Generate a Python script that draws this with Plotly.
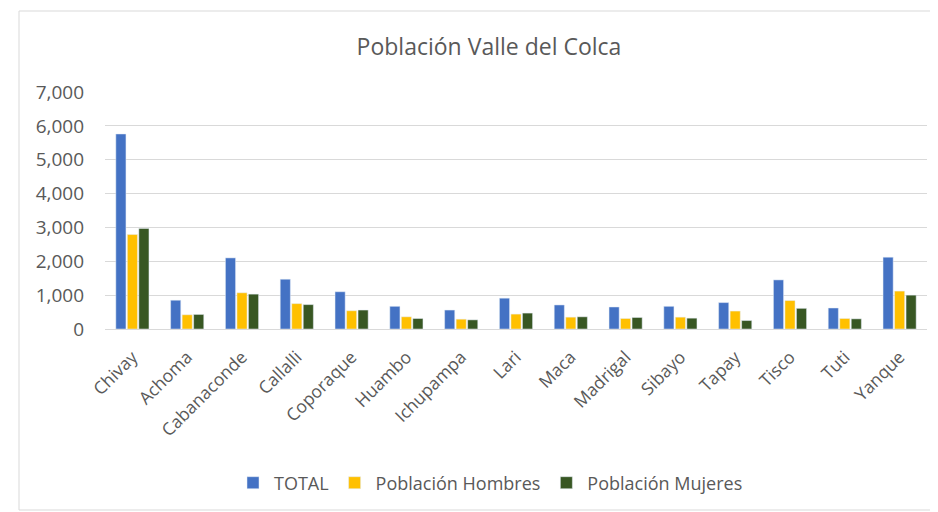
import plotly.graph_objects as go

categories = ["Chivay", "Achoma", "Cabanaconde", "Callalli", "Coporaque", "Huambo",
              "Ichupampa", "Lari", "Maca", "Madrigal", "Sibayo", "Tapay", "Tisco",
              "Tuti", "Yanque"]
total = [5760, 850, 2100, 1470, 1100, 670, 560, 910, 710, 650, 670, 780, 1450, 620, 2120]
hombres = [2790, 420, 1070, 750, 540, 360, 290, 440, 350, 310, 350, 530, 840, 310, 1120]
mujeres = [2970, 430, 1030, 720, 560, 310, 270, 470, 360, 340, 320, 250, 610, 300, 1000]
y_ticks = [0, 1000, 2000, 3000, 4000, 5000, 6000, 7000]

FONT = "Open Sans"
GRAY = "#595959"

fig = go.Figure()
fig.add_trace(go.Bar(name="TOTAL", x=categories, y=total, marker_color="#4472C4"))
fig.add_trace(go.Bar(name="Población Hombres", x=categories, y=hombres, marker_color="#FFC000"))
fig.add_trace(go.Bar(name="Población Mujeres", x=categories, y=mujeres, marker_color="#385723"))

# page body has an 8px margin; work in page pixel coordinates and shift
OFF = 8
W, H = 938 - OFF, 512 - OFF
L, R, T, B = 105 - OFF, 11, 92 - OFF, 183
pw, ph = W - L - R, H - T - B

def px_x(x):
    return (x - OFF - L) / pw

def px_y(y):
    return (H - B - (y - OFF)) / ph

fig.update_layout(
    width=W, height=H,
    margin=dict(l=L, r=R, t=T, b=B, autoexpand=False),
    paper_bgcolor="white", plot_bgcolor="white",
    barmode="group", bargap=0.37, bargroupgap=0.12,
    font=dict(family=FONT, color=GRAY),
    title=dict(text="Población Valle del Colca", x=(489 - OFF) / W, xanchor="center",
               y=1 - (47 - OFF) / H, yanchor="middle",
               font=dict(size=23, color=GRAY, family=FONT)),
    legend=dict(orientation="h", x=px_x(490), xanchor="center", y=px_y(483), yanchor="middle",
                font=dict(size=18, color=GRAY, family=FONT), itemwidth=32,
                traceorder="normal"),
    showlegend=True,
    xaxis=dict(tickangle=-45, tickfont=dict(size=17.5, color=GRAY), showgrid=False,
               showline=True, linecolor="#D9D9D9", linewidth=1, ticks="",
               ticklabelstandoff=10),
    yaxis=dict(range=[0, 7000], tickvals=y_ticks, tickformat=",", showgrid=True,
               gridcolor="#D9D9D9", gridwidth=1, zeroline=False, showline=False,
               tickfont=dict(size=19, color=GRAY), ticklabelstandoff=20),
    shapes=[dict(type="rect", xref="paper", yref="paper",
                 x0=px_x(19), x1=px_x(937), y0=px_y(510), y1=px_y(11),
                 line=dict(color="#D9D9D9", width=1), fillcolor="rgba(0,0,0,0)", layer="below")],
)

fig.write_html("out.html")
